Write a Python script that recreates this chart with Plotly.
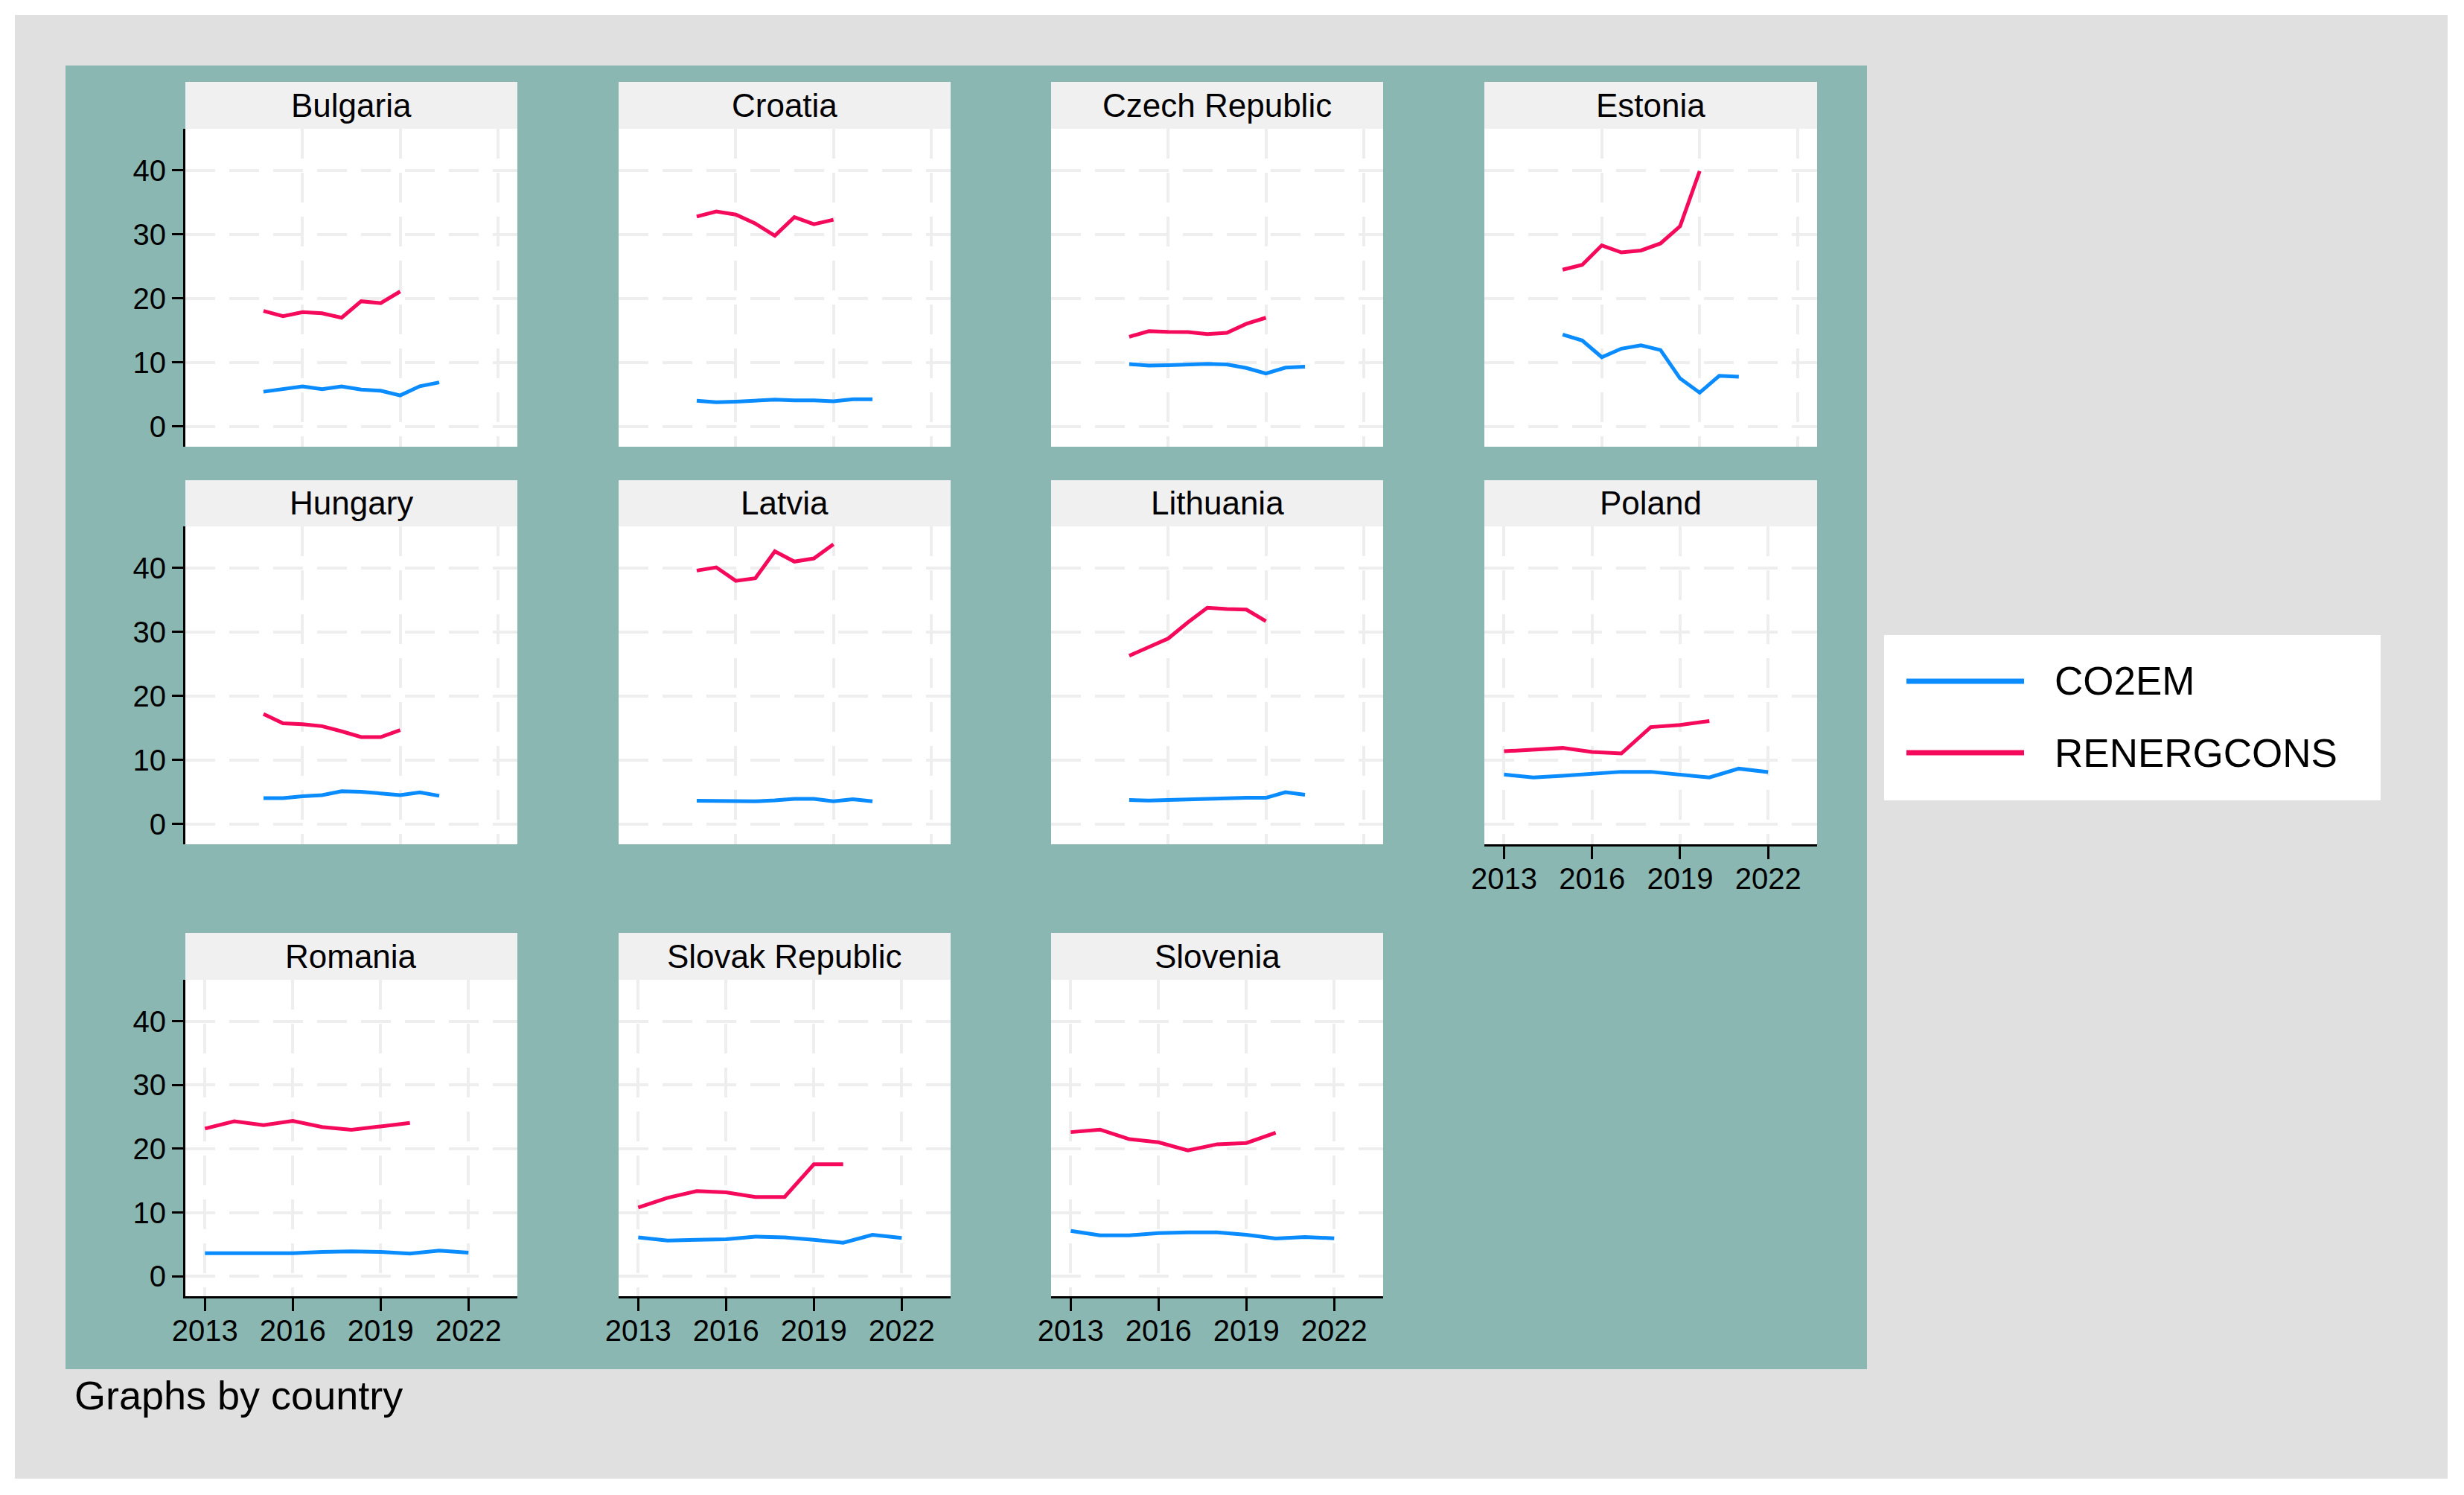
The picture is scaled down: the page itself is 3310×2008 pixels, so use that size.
import plotly.graph_objects as go

# ---------------- data ----------------
countries = ["Bulgaria", "Croatia", "Czech Republic", "Estonia",
             "Hungary", "Latvia", "Lithuania", "Poland",
             "Romania", "Slovak Republic", "Slovenia"]
years_co2em = [2013, 2014, 2015, 2016, 2017, 2018, 2019, 2020, 2021, 2022]
years_renergcons = [2013, 2014, 2015, 2016, 2017, 2018, 2019, 2020]

bulgaria_co2em = [5.45, 5.8, 6.27, 5.83, 6.27, 5.78, 5.6, 4.87, 6.3, 6.9]
bulgaria_renergcons = [18.07, 17.25, 17.88, 17.7, 17.0, 19.57, 19.28, 21.1]
croatia_co2em = [4.03, 3.8, 3.9, 4.07, 4.2, 4.1, 4.1, 3.95, 4.26, 4.26]
croatia_renergcons = [32.8, 33.6, 33.1, 31.7, 29.8, 32.7, 31.6, 32.3]
czech_co2em = [9.77, 9.53, 9.6, 9.65, 9.8, 9.7, 9.15, 8.3, 9.2, 9.35]
czech_renergcons = [14.03, 14.9, 14.8, 14.77, 14.45, 14.65, 16.05, 17.0]
estonia_co2em = [14.37, 13.45, 10.84, 12.17, 12.7, 11.96, 7.52, 5.3, 7.93, 7.8]
estonia_renergcons = [24.5, 25.25, 28.3, 27.2, 27.5, 28.6, 31.3, 39.9]
hungary_co2em = [4.08, 4.08, 4.35, 4.54, 5.13, 5.05, 4.8, 4.54, 4.97, 4.43]
hungary_renergcons = [17.2, 15.75, 15.6, 15.3, 14.5, 13.6, 13.6, 14.7]
latvia_co2em = [3.65, 3.65, 3.65, 3.57, 3.73, 3.96, 3.96, 3.57, 3.88, 3.57]
latvia_renergcons = [39.6, 40.1, 38.0, 38.4, 42.6, 41.0, 41.5, 43.7]
lithuania_co2em = [3.77, 3.69, 3.77, 3.88, 4.0, 4.12, 4.12, 4.12, 5.0, 4.6]
lithuania_renergcons = [26.3, 27.6, 29.0, 31.5, 33.8, 33.6, 33.5, 31.7]
poland_co2em = [7.75, 7.3, 7.55, 7.9, 8.18, 8.18, 7.8, 7.3, 8.67, 8.13]
poland_renergcons = [11.38, 11.6, 11.9, 11.28, 11.04, 15.16, 15.5, 16.1]
romania_co2em = [3.6, 3.6, 3.7, 3.6, 3.8, 3.9, 3.8, 3.55, 4.0, 3.7]
romania_renergcons = [23.15, 24.3, 23.7, 24.35, 23.4, 22.97, 23.5, 24.05]
slovak_co2em = [6.1, 5.6, 5.7, 5.8, 6.2, 6.1, 5.7, 5.25, 6.5, 6.0]
slovak_renergcons = [10.76, 12.3, 13.36, 13.16, 12.43, 12.43, 17.55, 17.55]
slovenia_co2em = [7.1, 6.4, 6.4, 6.77, 6.87, 6.87, 6.5, 5.9, 6.15, 5.95]
slovenia_renergcons = [22.6, 23.0, 21.5, 21.0, 19.74, 20.7, 20.9, 22.5]

series_names = ["CO2EM", "RENERGCONS"]
x_tick_vals = [2013, 2016, 2019, 2022]
x_tick_labels = ["2013", "2016", "2019", "2022"]
x_grid_vals_top = [2015, 2020, 2025]
y_tick_vals = [0, 10, 20, 30, 40]
y_tick_labels = ["0", "10", "20", "30", "40"]
footnote = "Graphs by country"

co2em_all = [bulgaria_co2em, croatia_co2em, czech_co2em, estonia_co2em,
             hungary_co2em, latvia_co2em, lithuania_co2em, poland_co2em,
             romania_co2em, slovak_co2em, slovenia_co2em]
renergcons_all = [bulgaria_renergcons, croatia_renergcons, czech_renergcons,
                  estonia_renergcons, hungary_renergcons, latvia_renergcons,
                  lithuania_renergcons, poland_renergcons, romania_renergcons,
                  slovak_renergcons, slovenia_renergcons]

# ---------------- style / layout ----------------
W, H = 3310, 2008
FONT = "Liberation Sans, Arial, sans-serif"
BLUE = "#0a8cff"
RED = "#f5095a"
GRID = "#eeeeee"
STRIP = "#f0f0f0"
TEAL = "#8ab7b1"
OUTER = "#e0e0e0"


def fx(px):
    return px / W


def fy(py):
    return 1 - py / H


col_x = [(249, 695), (831, 1277), (1412, 1858), (1994, 2441)]
row_plot = [(173, 600), (707, 1134), (1316, 1741)]
row_strip = [(110, 173), (645, 707), (1253, 1316)]
bottom_panels = {"Poland", "Romania", "Slovak Republic", "Slovenia"}

fig = go.Figure()
shapes = [
    dict(type="rect", xref="paper", yref="paper", x0=fx(20), x1=fx(3288),
         y0=fy(1986), y1=fy(20), fillcolor=OUTER, line=dict(width=0), layer="below"),
    dict(type="rect", xref="paper", yref="paper", x0=fx(88), x1=fx(2508),
         y0=fy(1839), y1=fy(88), fillcolor=TEAL, line=dict(width=0), layer="below"),
]
annotations = []
layout_axes = {}

for i, country in enumerate(countries):
    r, k = divmod(i, 4)
    n = i + 1
    xname = "x" if n == 1 else f"x{n}"
    yname = "y" if n == 1 else f"y{n}"
    xkey = "xaxis" if n == 1 else f"xaxis{n}"
    ykey = "yaxis" if n == 1 else f"yaxis{n}"
    x0, x1 = col_x[k]
    p0, p1 = row_plot[r]
    s0, s1 = row_strip[r]

    fig.add_trace(go.Scatter(x=years_co2em, y=co2em_all[i], mode="lines",
                             line=dict(color=BLUE, width=5),
                             name=series_names[0], xaxis=xname, yaxis=yname,
                             showlegend=False))
    fig.add_trace(go.Scatter(x=years_renergcons, y=renergcons_all[i], mode="lines",
                             line=dict(color=RED, width=5),
                             name=series_names[1], xaxis=xname, yaxis=yname,
                             showlegend=False))

    xa = dict(domain=[fx(x0), fx(x1)], anchor=yname, showgrid=True,
              gridcolor=GRID, gridwidth=4, griddash="40px,19px", zeroline=False,
              fixedrange=True, automargin=False)
    if country in bottom_panels:
        xa.update(range=[2012.33, 2023.67], tickmode="array", tickvals=x_tick_vals,
                  ticktext=x_tick_labels, ticks="outside", ticklen=17, tickwidth=3,
                  tickcolor="black", showline=True, linecolor="black", linewidth=3,
                  ticklabelstandoff=-8,
                  tickfont=dict(size=40, color="black", family=FONT))
    else:
        xa.update(range=[2009, 2026], tickmode="array", tickvals=x_grid_vals_top,
                  showticklabels=False, ticks="", showline=False)
    ya = dict(domain=[fy(p1), fy(p0)], anchor=xname, range=[-3.14, 46.5],
              tickmode="array", tickvals=y_tick_vals, ticktext=y_tick_labels,
              showgrid=True, gridcolor=GRID, gridwidth=4, griddash="40px,19px",
              zeroline=False, fixedrange=True, automargin=False)
    if k == 0:
        ya.update(ticks="outside", ticklen=15, tickwidth=3, tickcolor="black",
                  showline=True, linecolor="black", linewidth=3,
                  tickfont=dict(size=40, color="black", family=FONT))
    else:
        ya.update(showticklabels=False, ticks="", showline=False)
    layout_axes[xkey] = xa
    layout_axes[ykey] = ya

    # white plotting area and grey strip
    shapes.append(dict(type="rect", xref="paper", yref="paper", x0=fx(x0), x1=fx(x1),
                       y0=fy(p1), y1=fy(p0), fillcolor="white", line=dict(width=0),
                       layer="below"))
    shapes.append(dict(type="rect", xref="paper", yref="paper", x0=fx(x0), x1=fx(x1),
                       y0=fy(s1), y1=fy(s0), fillcolor=STRIP, line=dict(width=0),
                       layer="below"))
    annotations.append(dict(text=country, xref="paper", yref="paper",
                            x=fx((x0 + x1) / 2), y=fy((s0 + s1) / 2),
                            xanchor="center", yanchor="middle", showarrow=False,
                            font=dict(size=44, color="black", family=FONT)))

# legend (drawn manually)
shapes.append(dict(type="rect", xref="paper", yref="paper", x0=fx(2531), x1=fx(3198),
                   y0=fy(1075), y1=fy(853), fillcolor="white", line=dict(width=0),
                   layer="below"))
legend_colors = [BLUE, RED]
legend_y = [915, 1011]
for name, col, ly in zip(series_names, legend_colors, legend_y):
    shapes.append(dict(type="line", xref="paper", yref="paper", x0=fx(2561), x1=fx(2719),
                       y0=fy(ly), y1=fy(ly), line=dict(color=col, width=7)))
    annotations.append(dict(text=name, xref="paper", yref="paper", x=fx(2758), y=fy(ly),
                            xanchor="left", yanchor="middle", showarrow=False,
                            font=dict(size=53, color="black", family=FONT)))

annotations.append(dict(text=footnote, xref="paper", yref="paper", x=fx(98), y=fy(1874),
                        xanchor="left", yanchor="middle", showarrow=False,
                        font=dict(size=54, color="black", family=FONT)))

fig.update_layout(
    width=W, height=H,
    margin=dict(l=0, r=0, t=0, b=0, pad=0, autoexpand=False),
    paper_bgcolor="white", plot_bgcolor="white",
    font=dict(family=FONT, color="black"),
    showlegend=False, shapes=shapes, annotations=annotations,
    **layout_axes,
)

fig.write_html("out.html", config={"displayModeBar": False},
               post_script="document.body.style.margin='0';")
